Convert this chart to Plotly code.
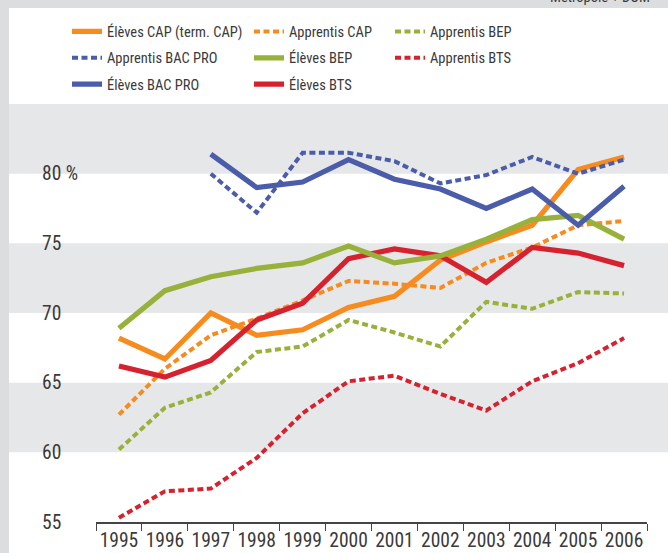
import plotly.graph_objects as go

# ---------------- data ----------------
years = ["1995", "1996", "1997", "1998", "1999", "2000",
         "2001", "2002", "2003", "2004", "2005", "2006"]

eleves_cap = [68.2, 66.7, 70.0, 68.4, 68.8, 70.4, 71.2, 73.8, 75.1, 76.3, 80.3, 81.2]
apprentis_cap = [62.7, 66.0, 68.4, 69.6, 70.9, 72.3, 72.1, 71.8, 73.6, 74.7, 76.3, 76.6]
apprentis_bep = [60.2, 63.2, 64.3, 67.2, 67.6, 69.5, 68.6, 67.6, 70.8, 70.3, 71.5, 71.4]
apprentis_bacpro = [None, None, 80.0, 77.2, 81.5, 81.5, 80.9, 79.3, 79.9, 81.2, 80.0, 81.0]
eleves_bacpro = [None, None, 81.4, 79.0, 79.4, 81.0, 79.6, 78.9, 77.5, 78.9, 76.3, 79.1]
eleves_bep = [68.9, 71.6, 72.6, 73.2, 73.6, 74.8, 73.6, 74.1, 75.3, 76.7, 77.0, 75.3]
eleves_bts = [66.2, 65.4, 66.6, 69.5, 70.7, 73.9, 74.6, 74.1, 72.2, 74.7, 74.3, 73.4]
apprentis_bts = [55.3, 57.2, 57.4, 59.6, 62.8, 65.1, 65.5, 64.2, 63.0, 65.1, 66.4, 68.2]

y_tick_vals = [55, 60, 65, 70, 75, 80]
y_tick_text = ["55", "60", "65", "70", "75", "80 %"]
band_ranges = [(60, 65), (70, 75), (80, 85)]

# ---------------- style ----------------
W, H = 668, 553
ML, MR, MT, MB = 96, 21, 104, 31
PW = W - ML - MR
PH = H - MT - MB
FONT = "Liberation Sans Narrow, Arial Narrow, Roboto Condensed, DejaVu Sans Condensed, sans-serif"
TXT = "#3a3a3a"
ORANGE = "#F68B1F"
BLUE = "#4A5CAA"
GREEN = "#97B13A"
RED = "#D6222E"
BAND = "#E6E7E8"
FRAME = "#DCDDDF"
DOT = "6px,3.5px"


def px_to_paper_x(px):
    return (px - ML) / PW


def px_to_paper_y(py):
    return (H - MB - py) / PH


fig = go.Figure()

series = [
    # name, values, color, dotted, legend, rank
    ("Apprentis BTS", apprentis_bts, RED, True, "legend3", 2),
    ("Apprentis BEP", apprentis_bep, GREEN, True, "legend3", 1),
    ("Apprentis CAP", apprentis_cap, ORANGE, True, "legend2", 1),
    ("Élèves CAP (term. CAP)", eleves_cap, ORANGE, False, "legend", 1),
    ("Élèves BTS", eleves_bts, RED, False, "legend2", 3),
    ("Élèves BEP", eleves_bep, GREEN, False, "legend2", 2),
    ("Élèves BAC PRO", eleves_bacpro, BLUE, False, "legend", 3),
    ("Apprentis BAC PRO", apprentis_bacpro, BLUE, True, "legend", 2),
]

for name, vals, color, dotted, leg, rank in series:
    fig.add_trace(go.Scatter(
        x=years, y=vals, name=name, mode="lines",
        line=dict(color=color, width=4 if dotted else 5.2,
                  dash=DOT if dotted else "solid"),
        legend=leg, legendrank=rank, legendgroup=name, connectgaps=False,
        hoverinfo="skip",
    ))

shapes = []
# outer frame strips
shapes.append(dict(type="rect", xref="paper", yref="paper",
                   x0=px_to_paper_x(-2), x1=px_to_paper_x(9),
                   y0=px_to_paper_y(H + 2), y1=px_to_paper_y(-2),
                   fillcolor=FRAME, line_width=0, layer="below"))
shapes.append(dict(type="rect", xref="paper", yref="paper",
                   x0=px_to_paper_x(-2), x1=px_to_paper_x(W + 2),
                   y0=px_to_paper_y(8), y1=px_to_paper_y(-2),
                   fillcolor=FRAME, line_width=0, layer="below"))
for lo, hi in band_ranges:
    shapes.append(dict(type="rect", xref="paper", yref="y",
                       x0=px_to_paper_x(9), x1=px_to_paper_x(W + 2),
                       y0=lo, y1=hi, fillcolor=BAND, line_width=0, layer="below"))

annotations = []
for v, t in zip(y_tick_vals, y_tick_text):
    annotations.append(dict(x=px_to_paper_x(40), xref="paper", xanchor="left",
                            y=v, yref="y", yanchor="middle", text=t,
                            showarrow=False, font=dict(family=FONT, size=19.5, color=TXT)))
annotations.append(dict(x=px_to_paper_x(548), xref="paper", xanchor="left",
                        y=px_to_paper_y(7.5), yref="paper", yanchor="bottom",
                        text="Métropole + DOM", showarrow=False,
                        font=dict(family=FONT, size=14.5, color=TXT)))

leg_common = dict(orientation="v", xref="container", yref="container",
                  xanchor="left", yanchor="top", bgcolor="rgba(0,0,0,0)",
                  borderwidth=0, traceorder="grouped", tracegroupgap=4.5,
                  font=dict(family=FONT, size=14.5, color=TXT))

fig.update_layout(
    width=W, height=H,
    margin=dict(l=ML, r=MR, t=MT, b=MB, autoexpand=False),
    paper_bgcolor="white", plot_bgcolor="rgba(0,0,0,0)",
    font=dict(family=FONT, color=TXT),
    showlegend=True,
    legend=dict(x=67 / W, y=1 - 15.5 / H, **leg_common),
    legend2=dict(x=249 / W, y=1 - 15.5 / H, **leg_common),
    legend3=dict(x=390 / W, y=1 - 15.5 / H, **leg_common),
    xaxis=dict(type="category", range=[-0.5, 11.5], tickson="boundaries",
               ticks="outside", ticklen=7, tickwidth=1.2, tickcolor="#444",
               showline=True, linecolor="#444", linewidth=1.5, tickangle=0,
               showgrid=False, zeroline=False, automargin=False,
               tickfont=dict(family=FONT, size=19.5, color=TXT)),
    yaxis=dict(range=[55, 85], showticklabels=False, showgrid=False,
               zeroline=False, ticks="", showline=False, automargin=False),
    shapes=shapes,
    annotations=annotations,
)

fig.write_html("out.html", config={"displayModeBar": False},
               post_script="document.body.style.margin='0';document.body.style.overflow='hidden';")
